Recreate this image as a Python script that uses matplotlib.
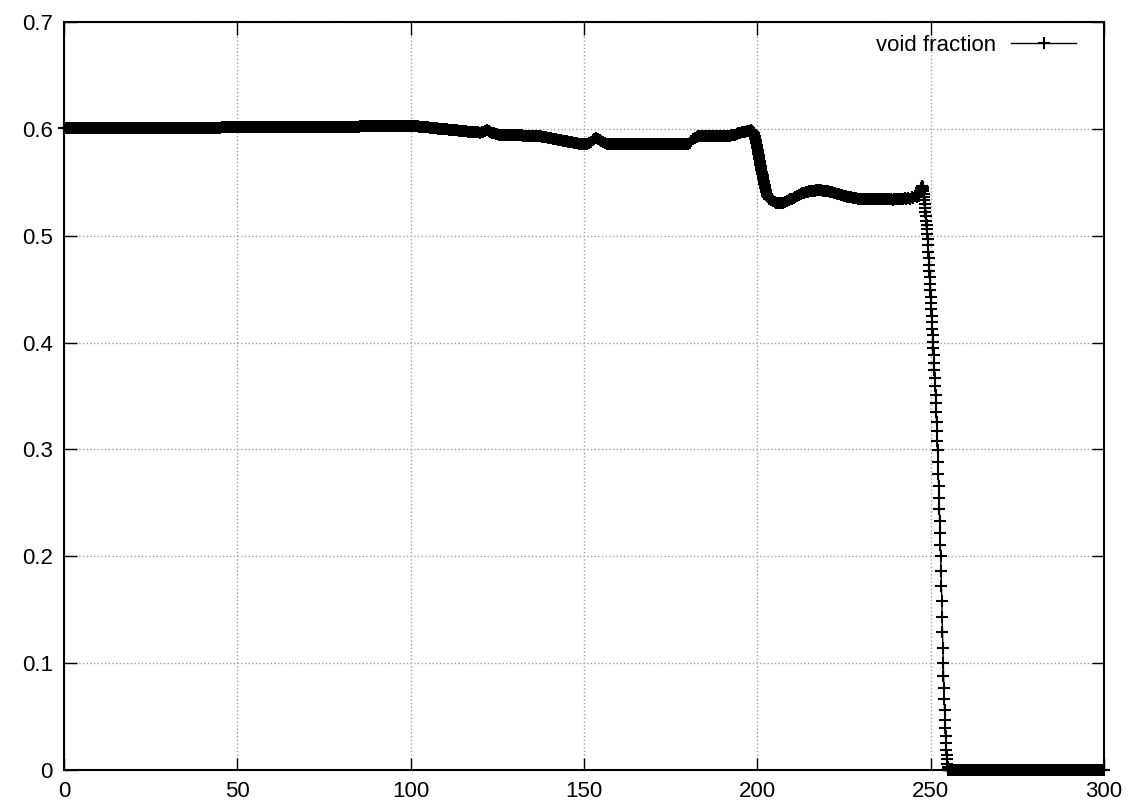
import numpy as np
import matplotlib.pyplot as plt

plt.rcParams['font.family'] = ['Liberation Sans', 'DejaVu Sans']

# void fraction profile
# segment A: x = 0 .. 100, step 0.5
void_a = [
    0.601, 0.601, 0.601, 0.601, 0.601, 0.601, 0.601, 0.601, 0.601, 0.601,
    0.601, 0.601, 0.601, 0.601, 0.601, 0.601, 0.601, 0.601, 0.601, 0.601,
    0.601, 0.601, 0.601, 0.601, 0.601, 0.601, 0.601, 0.601, 0.601, 0.601,
    0.601, 0.601, 0.601, 0.601, 0.601, 0.601, 0.601, 0.601, 0.601, 0.601,
    0.601, 0.601, 0.601, 0.601, 0.601, 0.601, 0.601, 0.601, 0.601, 0.601,
    0.601, 0.601, 0.601, 0.601, 0.601, 0.601, 0.601, 0.601, 0.601, 0.601,
    0.601, 0.601, 0.601, 0.601, 0.601, 0.601, 0.601, 0.601, 0.601, 0.601,
    0.601, 0.601, 0.601, 0.601, 0.601, 0.601, 0.601, 0.601, 0.601, 0.601,
    0.601,
    0.6012, 0.6012, 0.6012, 0.6012, 0.6012, 0.6012, 0.6012, 0.6012, 0.6012, 0.6012,
    0.6013, 0.6013, 0.6013, 0.6013, 0.6013, 0.6013, 0.6013, 0.6013, 0.6013, 0.6013,
    0.6014, 0.6014, 0.6014, 0.6014, 0.6014, 0.6014, 0.6014, 0.6014, 0.6014, 0.6014,
    0.6015, 0.6015, 0.6015, 0.6015, 0.6015, 0.6015, 0.6015, 0.6015, 0.6015, 0.6015,
    0.6016, 0.6016, 0.6016, 0.6016, 0.6016, 0.6016, 0.6016, 0.6016, 0.6016, 0.6016,
    0.6017, 0.6017, 0.6017, 0.6017, 0.6017, 0.6017, 0.6017, 0.6017, 0.6017, 0.6017,
    0.6018, 0.6018, 0.6018, 0.6018, 0.6018, 0.6018, 0.6018, 0.6018, 0.6018, 0.6018,
    0.602, 0.602, 0.602, 0.602, 0.602, 0.602, 0.602, 0.602, 0.602, 0.602,
    0.6022, 0.6022, 0.6022, 0.6022, 0.6022, 0.6022, 0.6022, 0.6022, 0.6022, 0.6022,
    0.6024, 0.6024, 0.6024, 0.6024, 0.6024, 0.6024, 0.6024, 0.6024, 0.6024, 0.6024,
    0.6026, 0.6026, 0.6026, 0.6026, 0.6026, 0.6026, 0.6026, 0.6026, 0.6026, 0.6026,
    0.6028, 0.6028, 0.6028, 0.6028, 0.6028, 0.6028, 0.6028, 0.6028, 0.6028, 0.6028,
]

# segment B: x = 100.5 .. 198.0, step 0.5
void_b = [
    0.6028, 0.6027, 0.6026, 0.6024,
    0.6022, 0.602, 0.6018, 0.6016, 0.6015, 0.6013, 0.6011, 0.601, 0.6008, 0.6006,
    0.6005, 0.6003, 0.6001, 0.6, 0.5998, 0.5996, 0.5995, 0.5993, 0.5992, 0.599,
    0.5989, 0.5987, 0.5985, 0.5984, 0.5982, 0.598, 0.5979, 0.5977, 0.5975, 0.5974,
    0.5972, 0.597, 0.5969, 0.5967, 0.5966, 0.5965,
    0.5968, 0.5975, 0.5982, 0.5985, 0.5983, 0.5975, 0.5965, 0.5958, 0.5952, 0.5948,
    0.5945, 0.5944, 0.5943,
    0.5943, 0.5942, 0.5942, 0.5941, 0.5941, 0.594, 0.594, 0.5939, 0.5939, 0.5938,
    0.5938, 0.5937, 0.5937, 0.5936, 0.5936, 0.5935, 0.5935, 0.5934, 0.5934, 0.5933,
    0.5933,
    0.593, 0.5927, 0.5924, 0.5921, 0.5918, 0.5915, 0.5912, 0.5909, 0.5905, 0.5902,
    0.5899, 0.5896, 0.5893, 0.589, 0.5887, 0.5884, 0.5881, 0.5878, 0.5874, 0.5871,
    0.5868, 0.5865, 0.5862, 0.5859,
    0.5857, 0.5856, 0.5856, 0.5858,
    0.5868, 0.588, 0.5895, 0.5906, 0.591,
    0.5905, 0.5895, 0.5883, 0.5873, 0.5866, 0.5861, 0.5858, 0.5857,
    0.5858, 0.5859, 0.586, 0.586, 0.586, 0.586, 0.586, 0.586, 0.586, 0.586,
    0.586, 0.586, 0.586, 0.586, 0.586, 0.586, 0.586, 0.586, 0.586, 0.586,
    0.586, 0.586, 0.586, 0.586, 0.586, 0.586, 0.586, 0.586, 0.586, 0.586,
    0.586, 0.586, 0.586, 0.586, 0.586, 0.586, 0.586, 0.586, 0.586, 0.586,
    0.586, 0.586, 0.586, 0.586, 0.5861,
    0.5868, 0.5885, 0.5902, 0.5916, 0.5926, 0.5932, 0.5935,
    0.5935, 0.5935, 0.5935, 0.5935, 0.5935, 0.5935, 0.5935, 0.5935, 0.5935, 0.5935,
    0.5935, 0.5935, 0.5935, 0.5936, 0.5936, 0.5936, 0.5936,
    0.5938, 0.5942, 0.5947, 0.5952, 0.5957, 0.5962, 0.5966, 0.597, 0.5974, 0.5978,
    0.5982, 0.5984,
]

# segment C: x = 198.1 .. 203.0, step 0.1 (first drop)
void_c = [
    0.5984, 0.5985, 0.5985, 0.5983, 0.598, 0.5976, 0.5971, 0.5965, 0.5958, 0.595,
    0.5941, 0.5931, 0.592, 0.5908, 0.5895, 0.5881, 0.5866, 0.5851, 0.5835, 0.5819,
    0.5802, 0.5785, 0.5768, 0.5751, 0.5734, 0.5717, 0.57, 0.5683, 0.5666, 0.5649,
    0.5632, 0.5615, 0.5598, 0.5581, 0.5564, 0.5548, 0.5532, 0.5516, 0.5501, 0.5486,
    0.5471, 0.5457, 0.5443, 0.543, 0.5417, 0.5405, 0.5393, 0.5382, 0.5371, 0.5361,
]

# segment D: x = 203.5 .. 246.0, step 0.5
void_d = [
    0.5345, 0.5332, 0.5321, 0.5313, 0.5307, 0.5304, 0.5303, 0.5305, 0.5309, 0.5315,
    0.5322, 0.533, 0.5339, 0.5348, 0.5357, 0.5366, 0.5375, 0.5383, 0.539, 0.5397,
    0.5403, 0.5408, 0.5412, 0.5416, 0.5419, 0.5421, 0.5423, 0.5424, 0.5425, 0.5425,
    0.5424, 0.5423, 0.5421, 0.5418, 0.5415, 0.5411, 0.5407, 0.5403, 0.5398, 0.5393,
    0.5388, 0.5383, 0.5378, 0.5373, 0.5369, 0.5365, 0.5361, 0.5358, 0.5355, 0.5352,
    0.535, 0.5348, 0.5346, 0.5345, 0.5344, 0.5343, 0.5342, 0.5341, 0.5341, 0.534,
    0.534, 0.534, 0.5339, 0.5339, 0.5339, 0.5339, 0.5339, 0.534, 0.534, 0.534,
    0.5341, 0.5338, 0.5343, 0.5339, 0.5345, 0.534, 0.5348, 0.5342, 0.5352, 0.5345,
    0.5357, 0.5348, 0.5362, 0.5352, 0.5368, 0.5358,
]

# segment E: x = 246.1 .. 256.0, step 0.1 (front drop to zero)
void_e = [
    0.537, 0.5378, 0.5382, 0.5378, 0.5372, 0.5378, 0.5392, 0.5405, 0.5412, 0.541,
    0.5418, 0.5432, 0.5448, 0.546, 0.5465, 0.5462, 0.5452, 0.5436, 0.5415,
    0.539, 0.5365, 0.5335, 0.53, 0.526, 0.522, 0.518, 0.514, 0.51, 0.506,
    0.502, 0.497, 0.491, 0.485, 0.479, 0.473, 0.467, 0.461, 0.455, 0.449,
    0.443, 0.437, 0.431, 0.425, 0.419, 0.413, 0.407, 0.401, 0.395, 0.388,
    0.381, 0.374, 0.367, 0.359, 0.351, 0.343, 0.335, 0.326, 0.317, 0.308,
    0.299, 0.288, 0.277, 0.266, 0.255, 0.244, 0.233, 0.222, 0.211, 0.2,
    0.186, 0.172, 0.158, 0.143, 0.129, 0.114, 0.1, 0.088, 0.077, 0.066,
    0.056, 0.047, 0.039, 0.032, 0.025, 0.019, 0.014, 0.01, 0.006, 0.003,
    0.001, 0.0, 0.0, 0.0, 0.0, 0.0, 0.0, 0.0, 0.0, 0.0, 0.0,
]

# segment F: x = 256.5 .. 300, step 0.5
void_f = [
    0, 0, 0, 0, 0, 0, 0, 0, 0, 0, 0, 0, 0, 0, 0, 0, 0, 0, 0, 0, 0, 0,
    0, 0, 0, 0, 0, 0, 0, 0, 0, 0, 0, 0, 0, 0, 0, 0, 0, 0, 0, 0, 0, 0,
    0, 0, 0, 0, 0, 0, 0, 0, 0, 0, 0, 0, 0, 0, 0, 0, 0, 0, 0, 0, 0, 0,
    0, 0, 0, 0, 0, 0, 0, 0, 0, 0, 0, 0, 0, 0, 0, 0, 0, 0, 0, 0, 0, 0,
]

# (start, end) of each segment's x grid
segments = [
    ((0.0, 100.0), void_a),
    ((100.5, 198.0), void_b),
    ((198.1, 203.0), void_c),
    ((203.5, 246.0), void_d),
    ((246.1, 256.0), void_e),
    ((256.5, 300.0), void_f),
]

x_parts, y_parts = [], []
for (x0, x1), vals in segments:
    x_parts.append(np.linspace(x0, x1, len(vals)))
    y_parts.append(np.asarray(vals, dtype=float))
x = np.concatenate(x_parts)
y = np.concatenate(y_parts)

fig = plt.figure(figsize=(11.29, 8.06), dpi=100)
ax = fig.add_axes([64 / 1129, 1 - 770 / 806, 1040 / 1129, 748 / 806])

ax.plot(x, y, color='black', lw=1, marker='+', markersize=8.5, markeredgewidth=1.5,
        label='void fraction', clip_on=False, zorder=3)

ax.set_xlim(0, 300)
ax.set_ylim(0, 0.7)
ax.set_xticks(np.arange(0, 301, 50))
ax.set_yticks(np.arange(0, 0.71, 0.1))
ax.set_yticklabels(['0', '0.1', '0.2', '0.3', '0.4', '0.5', '0.6', '0.7'])

ax.grid(True, linestyle=':', color='#a0a0a0', lw=1)
ax.set_axisbelow(True)
ax.tick_params(direction='in', length=9, width=1, top=True, right=True,
               labelsize=16, pad=8)
for s in ax.spines.values():
    s.set_linewidth(1.5)

ax.legend(loc='upper right', bbox_to_anchor=(0.973, 0.983), frameon=False,
          markerfirst=False, numpoints=1, handlelength=2.9, handletextpad=0.7,
          borderpad=0, borderaxespad=0, fontsize=16)

fig.savefig('out.png', dpi=100)
